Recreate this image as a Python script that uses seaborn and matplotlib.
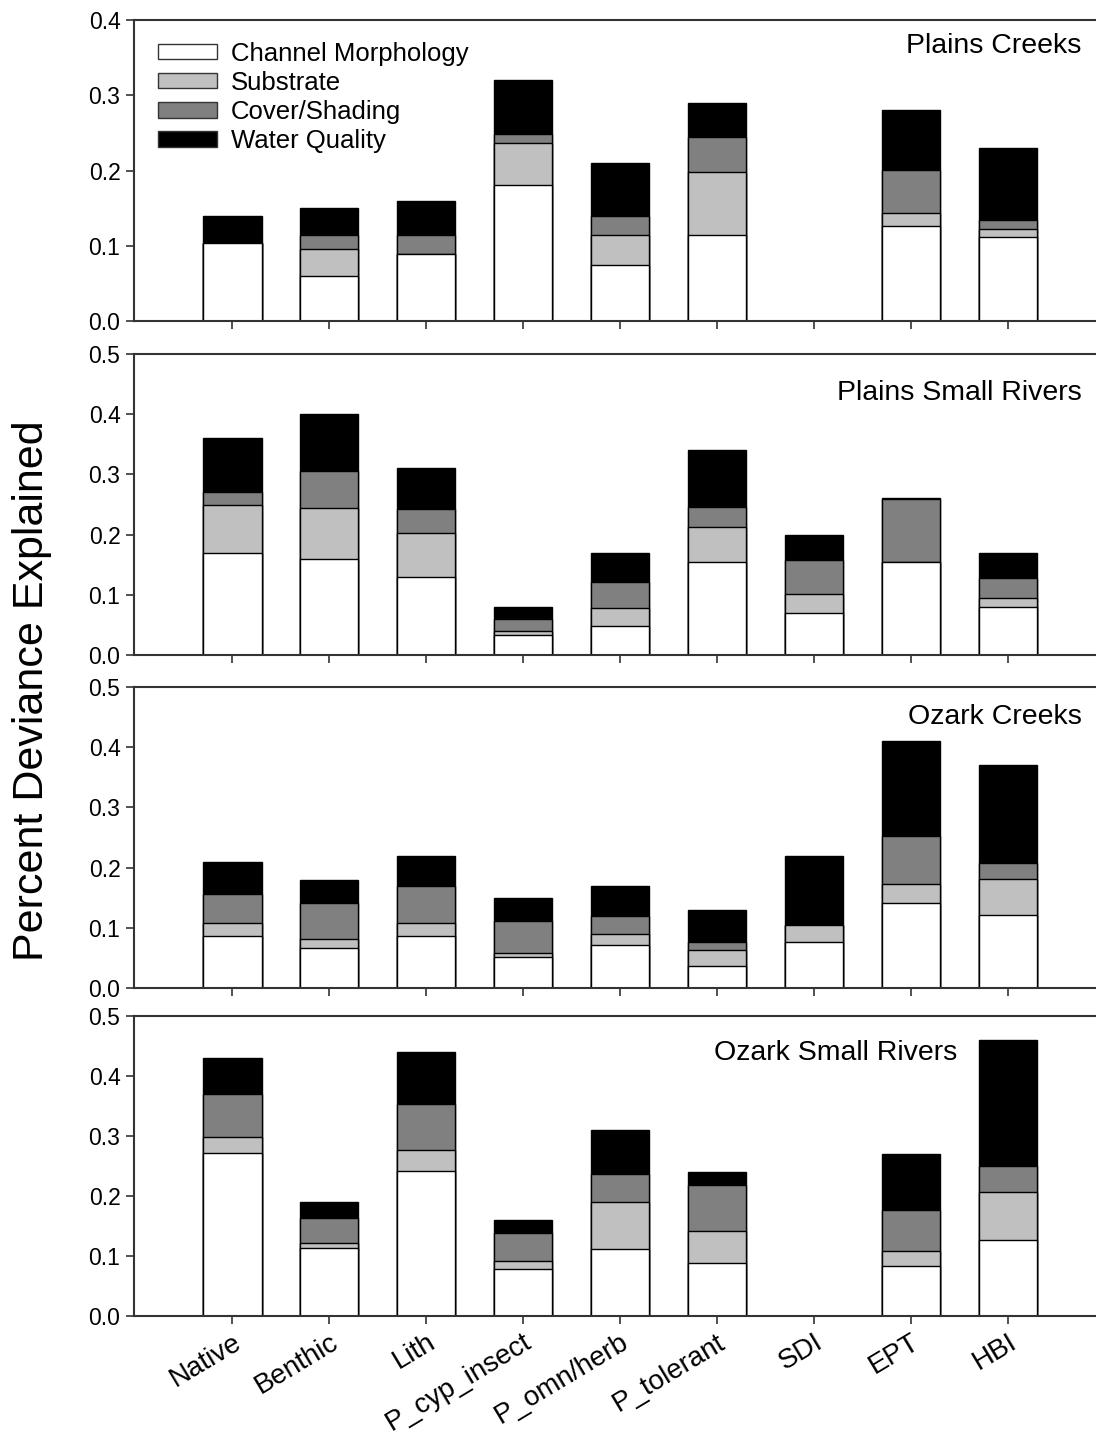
import numpy as np
import pandas as pd
import matplotlib
matplotlib.use("Agg")
import matplotlib.pyplot as plt
from matplotlib.patches import Patch
import seaborn as sns

metrics = ['Native', 'Benthic', 'Lith', 'P_cyp_insect', 'P_omn/herb',
           'P_tolerant', 'SDI', 'EPT', 'HBI']
components = ['Channel Morphology', 'Substrate', 'Cover/Shading', 'Water Quality']
colors = ['#ffffff', '#c0c0c0', '#808080', '#000000']
panel_names = ['Plains Creeks', 'Plains Small Rivers', 'Ozark Creeks', 'Ozark Small Rivers']

# segment heights per panel (CM, Substrate, Cover, WQ)
plains_creeks_cm = [0.104, 0.060, 0.089, 0.181, 0.075, 0.114, 0.0, 0.126, 0.112]
plains_creeks_sub = [0.0, 0.036, 0.0, 0.056, 0.039, 0.084, 0.0, 0.018, 0.010]
plains_creeks_cov = [0.0, 0.018, 0.025, 0.012, 0.025, 0.047, 0.0, 0.057, 0.012]
plains_creeks_wq = [0.036, 0.036, 0.046, 0.071, 0.071, 0.045, 0.0, 0.079, 0.096]

plains_rivers_cm = [0.170, 0.160, 0.130, 0.034, 0.049, 0.154, 0.069, 0.154, 0.079]
plains_rivers_sub = [0.080, 0.084, 0.073, 0.006, 0.029, 0.058, 0.033, 0.0, 0.015]
plains_rivers_cov = [0.021, 0.061, 0.040, 0.020, 0.043, 0.034, 0.055, 0.105, 0.034]
plains_rivers_wq = [0.089, 0.095, 0.067, 0.020, 0.049, 0.094, 0.043, 0.001, 0.042]

ozark_creeks_cm = [0.086, 0.066, 0.086, 0.051, 0.071, 0.037, 0.077, 0.142, 0.122]
ozark_creeks_sub = [0.022, 0.016, 0.022, 0.007, 0.018, 0.026, 0.028, 0.030, 0.059]
ozark_creeks_cov = [0.048, 0.059, 0.062, 0.053, 0.031, 0.014, 0.0, 0.080, 0.026]
ozark_creeks_wq = [0.054, 0.039, 0.050, 0.039, 0.050, 0.053, 0.115, 0.158, 0.163]

ozark_rivers_cm = [0.271, 0.114, 0.242, 0.078, 0.111, 0.089, 0.0, 0.084, 0.127]
ozark_rivers_sub = [0.028, 0.008, 0.034, 0.014, 0.079, 0.052, 0.0, 0.024, 0.080]
ozark_rivers_cov = [0.071, 0.042, 0.078, 0.046, 0.047, 0.077, 0.0, 0.069, 0.043]
ozark_rivers_wq = [0.060, 0.026, 0.086, 0.022, 0.073, 0.022, 0.0, 0.093, 0.210]

panels = [
    [plains_creeks_cm, plains_creeks_sub, plains_creeks_cov, plains_creeks_wq],
    [plains_rivers_cm, plains_rivers_sub, plains_rivers_cov, plains_rivers_wq],
    [ozark_creeks_cm, ozark_creeks_sub, ozark_creeks_cov, ozark_creeks_wq],
    [ozark_rivers_cm, ozark_rivers_sub, ozark_rivers_cov, ozark_rivers_wq],
]
y_max = [0.4, 0.5, 0.5, 0.5]

sns.set_style('ticks')
plt.rcParams['font.family'] = ['Liberation Sans', 'DejaVu Sans']
plt.rcParams['text.color'] = 'black'

fig = plt.figure(figsize=(10.96, 14.38), dpi=100)
H = 1438.0
tops = [20, 354, 687, 1016]
bottoms = [321, 655, 988, 1316]
left = 133.6 / 1096
# panel title positions (axes fraction)
title_pos = [(0.985, 0.915), (0.985, 0.87), (0.985, 0.90), (0.856, 0.875)]

for i, segs in enumerate(panels):
    ax = fig.add_axes([left, 1 - bottoms[i] / H, 1 - left, (bottoms[i] - tops[i]) / H])
    cum = np.cumsum(np.array(segs), axis=0)
    # draw from the tallest (cumulative) layer downwards
    for k in range(3, -1, -1):
        df = pd.DataFrame({'metric': metrics, 'value': cum[k]})
        sns.barplot(data=df, x='metric', y='value', order=metrics, color=colors[k],
                    saturation=1, edgecolor='black', linewidth=1.0, width=0.6,
                    errorbar=None, ax=ax)
    ax.set_xlim(-1.02, 8.91)
    ax.set_ylim(0, y_max[i])
    yt = np.arange(0, y_max[i] + 0.001, 0.1)
    ax.set_yticks(yt)
    ax.set_yticklabels([f'{t:.1f}' for t in yt], fontsize=16.5, color='black')
    ax.set_xlabel('')
    ax.set_ylabel('')
    for s in ['left', 'bottom', 'top']:
        ax.spines[s].set_linewidth(1.5)
        ax.spines[s].set_color('#333333')
    ax.spines['right'].set_visible(False)
    ax.tick_params(axis='both', direction='out', length=6, width=1.2, color='#333333')
    if i < 3:
        ax.set_xticklabels([])
    else:
        ax.set_xticks(range(len(metrics)))
        ax.set_xticklabels(metrics, rotation=31, ha='right', rotation_mode='anchor',
                           fontsize=20, color='black')
    ax.text(title_pos[i][0], title_pos[i][1], panel_names[i], transform=ax.transAxes,
            ha='right', va='center', fontsize=20.5, color='black')
    if i == 0:
        handles = [Patch(facecolor=c, edgecolor='#333333', linewidth=1) for c in colors]
        leg = ax.legend(handles, components, loc='upper left', bbox_to_anchor=(0.025, 0.928),
                        frameon=False, fontsize=18.5, handlelength=2.3, handleheight=0.55,
                        labelspacing=0.2, handletextpad=0.55, borderpad=0, borderaxespad=0)
        for t in leg.get_texts():
            t.set_color('black')

fig.text(32 / 1096, 1 - 691 / H, 'Percent Deviance Explained', rotation=90,
         ha='center', va='center', fontsize=31, color='black')

fig.savefig('out.png', dpi=100)
